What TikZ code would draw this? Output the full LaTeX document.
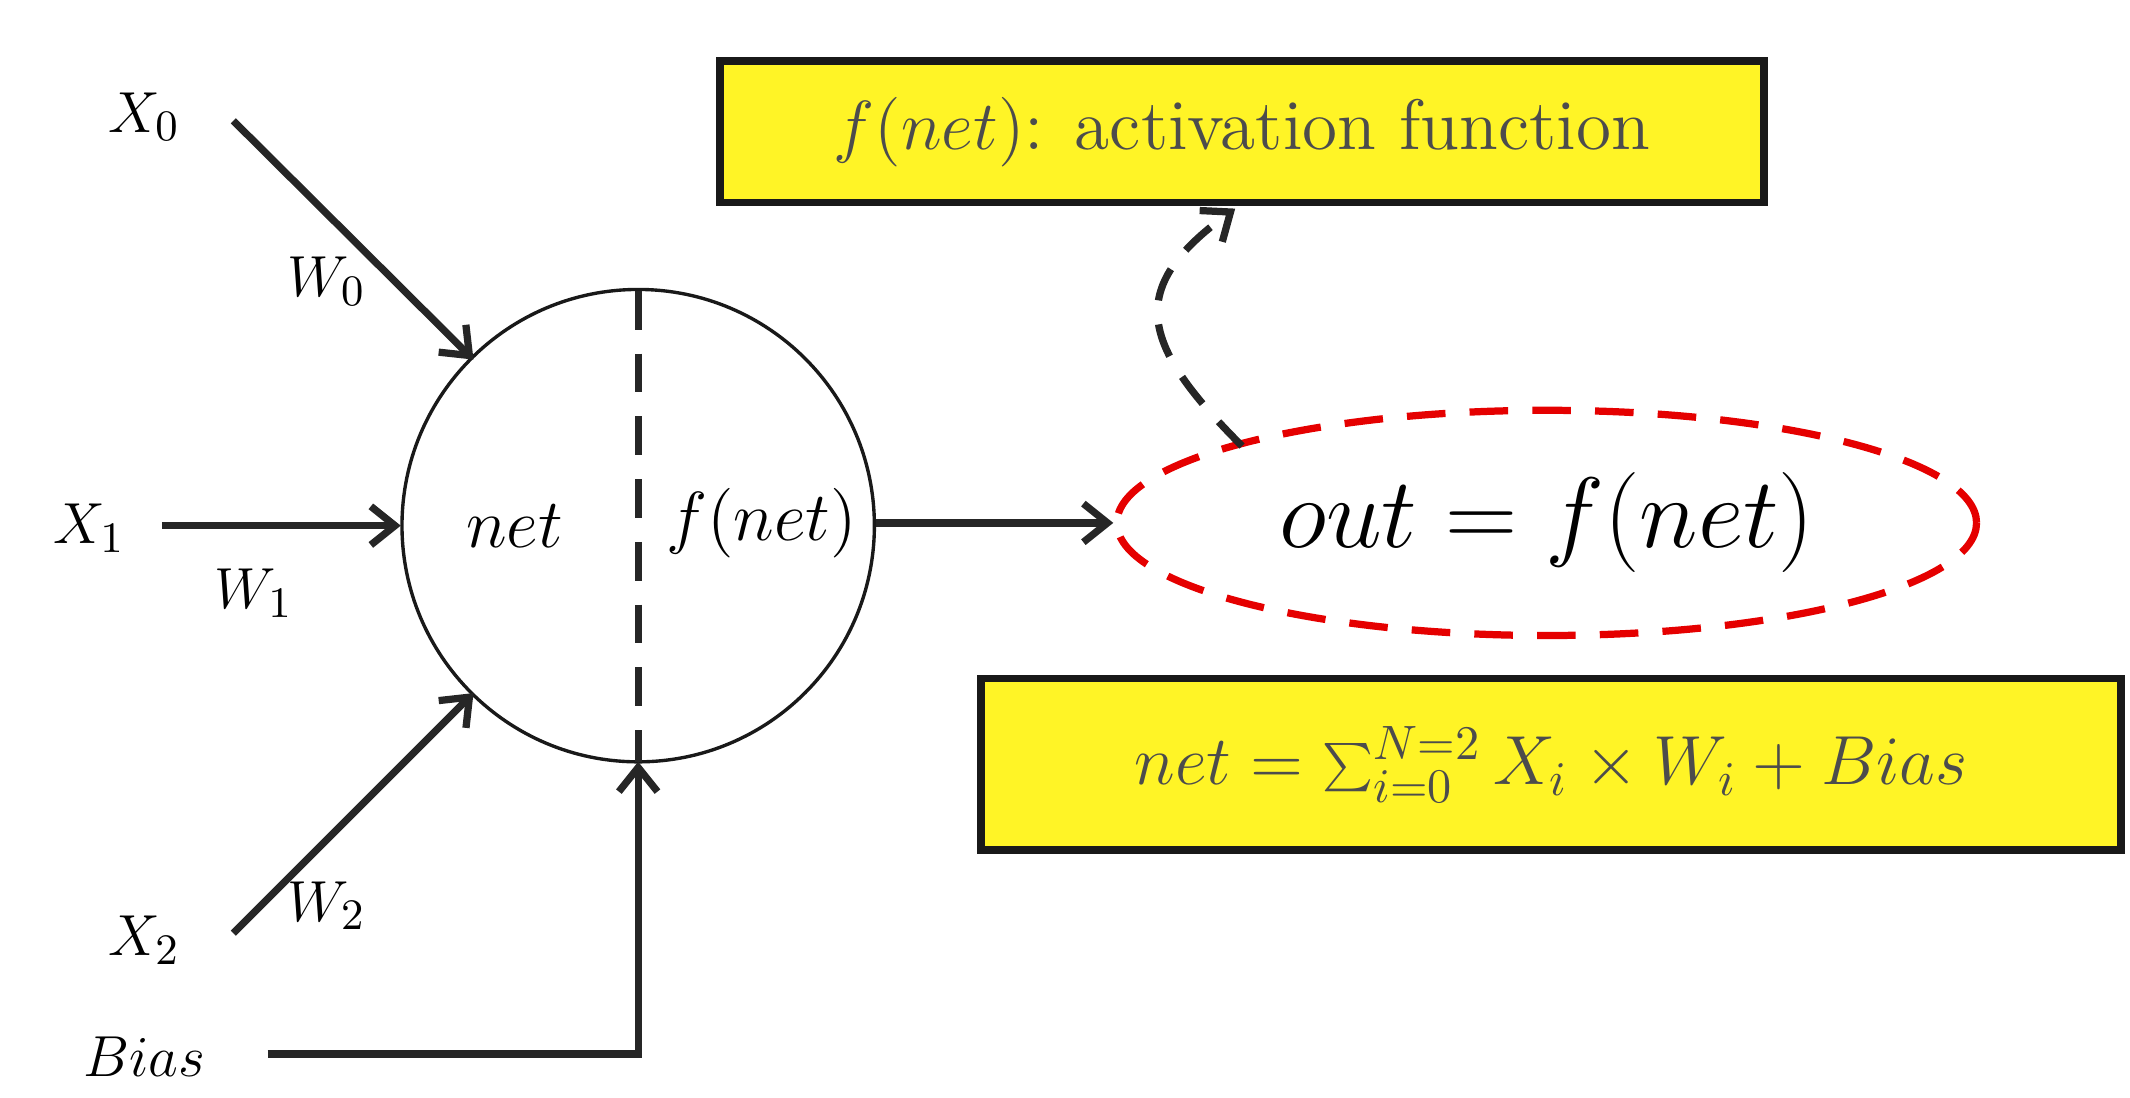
\documentclass[tikz,border=0pt]{standalone}
\usetikzlibrary{arrows.meta,shapes.geometric}
\begin{document}
\begin{tikzpicture}[x=0.01cm,y=-0.01cm,
  conn/.style={line width=1.5pt,draw=black!85,-{Straight Barb[length=5pt,width=8pt]}},
  lab/.style={font=\fontsize{12.5}{14}\selectfont},
  ybox/.style={draw=black!90,line width=1.6pt,fill=yellow!85!white,text=black!70,inner sep=0pt,minimum height=0pt}]
\useasboundingbox (0,0) rectangle (1552,800);
% circle
\node[circle,draw=black!90,line width=0.7pt,inner sep=0pt,minimum size=3.44cm] (c) at (465,383) {};
\coordinate (ct) at (465,212); \coordinate (cb) at (465,555);
\draw[line width=1.5pt,draw=black!85,dash pattern=on 8pt off 5pt] (ct) -- (cb);
\node[font=\fontsize{15.5}{17}\selectfont] (net) at (375,383) {$net$};
\node[font=\fontsize{15}{17}\selectfont] (fn) at (555,381) {$f(net)$};
% inputs
\node[lab] (x0) at (105,85) {$X_0$};
\node[lab] (x1) at (65,385) {$X_1$};
\node[lab] (x2) at (105,685) {$X_2$};
\node[lab] (bias) at (105,770) {$Bias$};
\node[lab] (w0) at (238,205) {$W_0$};
\node[lab] (w1) at (185,432) {$W_1$};
\node[lab] (w2) at (238,660) {$W_2$};
\coordinate (a0) at (170,88); \coordinate (e0) at (345,262);
\coordinate (a1) at (118,383); \coordinate (e1) at (292,383);
\coordinate (a2) at (170,680); \coordinate (e2) at (345,505);
\coordinate (ab) at (195,768); \coordinate (kb) at (465,768);
\draw[conn] (a0) -- (e0);
\draw[conn] (a1) -- (e1);
\draw[conn] (a2) -- (e2);
\draw[conn] (ab) -- (kb) -- (cb);
% output
\node[ellipse,draw=red!90!black,line width=1.5pt,dash pattern=on 8pt off 5pt,minimum width=6.26cm,minimum height=1.64cm,inner sep=0pt,font=\fontsize{21}{24}\selectfont] (out) at (1127,381) {$out=f(net)$};
\coordinate (o0) at (638,381);
\draw[conn] (o0) -- (out.west);
% boxes
\node[ybox,minimum width=7.6cm,minimum height=1.03cm,font=\fontsize{14.8}{17}\selectfont] (act) at (905,96) {$f(net)$: activation function};
\node[ybox,minimum width=8.3cm,minimum height=1.25cm,font=\fontsize{14.8}{17}\selectfont] (sum) at (1130,557) {$net=\sum_{i=0}^{N=2}X_i\times W_i+Bias$};
\coordinate (ds) at (905,325); \coordinate (de) at (900,152);
\draw[conn,dash pattern=on 7pt off 5pt] (ds) .. controls (830,250) and (820,210) .. (de);
\end{tikzpicture}
\end{document}
